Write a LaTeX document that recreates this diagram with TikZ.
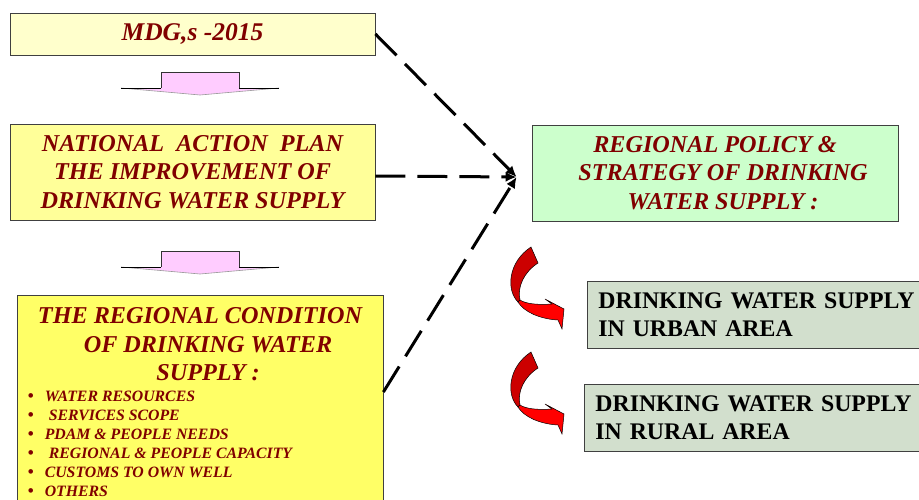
\documentclass[tikz,border=0pt]{standalone}
\usepackage{fontspec}
\setmainfont{Liberation Serif}
\usetikzlibrary{%
  arrows,%
  arrows.meta,%
  calc,%
  positioning%
}
\definecolor{titlered}{HTML}{800000}
\definecolor{paleyellow}{HTML}{FFFFCC}
\definecolor{midyellow}{HTML}{FFFF99}
\definecolor{deepyellow}{HTML}{FFFF66}
\definecolor{palegreen}{HTML}{CCFFCC}
\definecolor{greygreen}{HTML}{D2DFCD}
\definecolor{pinkfill}{HTML}{FFCCFF}
\definecolor{darkturn}{HTML}{CC0000}
\definecolor{brightturn}{HTML}{FF0000}
\tikzset{>={Latex[length=11pt,width=10pt]}}
\tikzset{
  box/.style={draw=black!75,line width=0.8pt,inner sep=0pt},
  title/.style={text=titlered,font=\fontsize{24.2}{28.5}\selectfont\bfseries\itshape,align=center},
  sidebox/.style={box,fill=greygreen,anchor=west,minimum height=67pt,text width=330pt,
    inner xsep=11pt,align=left,font=\fontsize{23.8}{28}\selectfont\bfseries},
  link/.style={->,line width=3pt,dash pattern=on 30pt off 12pt},
  pics/downblock/.style={code={
    \fill[pinkfill] (-39,0) -- (39,0) -- (39,16) -- (79,16) -- (0,23) -- (-79,16) -- (-39,16) -- cycle;
    \draw[black!80,line width=0.7pt] (-39,16) -- (-39,0) -- (39,0) -- (39,16);
    \draw[black!40,line width=0.6pt] (-79,16) -- (0,23) -- (79,16);
    \draw[black,line width=1pt] (-79,16) -- (-39,16) (39,16) -- (79,16);
  }},
  pics/redturn/.style={code={
    \filldraw[fill=darkturn,draw=black,line width=0.5pt] (31,7) .. controls (8,22) and (6,50) .. (18,62)
      -- (20,60) .. controls (17,47) and (24,32) .. (38,23) -- cycle;
    \filldraw[fill=brightturn,draw=black,line width=0.5pt] (18,62) .. controls (24,72) and (40,79) .. (58,80)
      -- (62,89) -- (64,69) -- (45,59) -- (52,64) .. controls (38,65) and (26,64) .. (20,60) -- cycle;
  }}
}
\newcommand{\listdot}{\makebox[17pt][l]{\normalfont\bfseries\fontsize{17}{19}\selectfont\textbullet}}

\begin{document}
\begin{tikzpicture}[x=1pt,y=-1pt]
    \useasboundingbox (0,0) rectangle (919,499);
    % left column
    \node[box,fill=paleyellow,minimum width=365pt,minimum height=42pt,title,
      font=\fontsize{25.5}{30}\selectfont\bfseries\itshape] (mdg) at (192.5,34) {MDG,s -2015};
    \node[box,fill=midyellow,minimum width=365pt,minimum height=96pt,title] (nap) at (192.5,172)
    {NATIONAL\ \ ACTION\ \ PLAN\\THE IMPROVEMENT OF\\DRINKING WATER SUPPLY};
    \node[box,fill=deepyellow,minimum width=366pt,minimum height=240pt,anchor=north] (cond) at (200,295) {};
    \node[title,inner sep=0pt,below=12.5pt of cond.north] (condtitle)
    {THE REGIONAL CONDITION\\\hspace*{16pt}OF DRINKING WATER\\\hspace*{16pt}SUPPLY :};
    \node[inner sep=0pt,anchor=north west,align=left,text=titlered,
      font=\fontsize{15.8}{19}\selectfont\bfseries\itshape] (condlist)
      at ([xshift=11pt,yshift=-95.5pt]cond.north west)
    {\listdot WATER RESOURCES\\
     \listdot\hspace*{4pt}SERVICES SCOPE\\
     \listdot PDAM \& PEOPLE NEEDS\\
     \listdot\hspace*{4pt}REGIONAL \& PEOPLE CAPACITY\\
     \listdot CUSTOMS TO OWN WELL\\
     \listdot OTHERS};
    \pic at (200,72) {downblock};
    \pic at (200,251) {downblock};
    % right column
    \node[box,fill=palegreen,minimum width=366pt,minimum height=96pt,title] (policy) at (715,173)
    {REGIONAL POLICY \&\\\hspace*{16pt}STRATEGY OF DRINKING\\\hspace*{16pt}WATER SUPPLY :};
    \node[sidebox] (urban) at (587,314.5) {DRINKING WATER SUPPLY\\IN URBAN AREA};
    \node[sidebox] (rural) at (584,418) {DRINKING WATER SUPPLY\\IN RURAL AREA};
    \pic at (500,240) {redturn};
    \pic at (500,345) {redturn};
    % links
    \coordinate (hub) at ($(policy.west)+(-15,4)$);
    \draw[link] (mdg.east) -- (hub);
    \draw[link] ([yshift=-4pt]nap.east) -- (hub);
    \draw[link] ([yshift=-97pt]cond.north east) -- (hub);
\end{tikzpicture}
\end{document}
